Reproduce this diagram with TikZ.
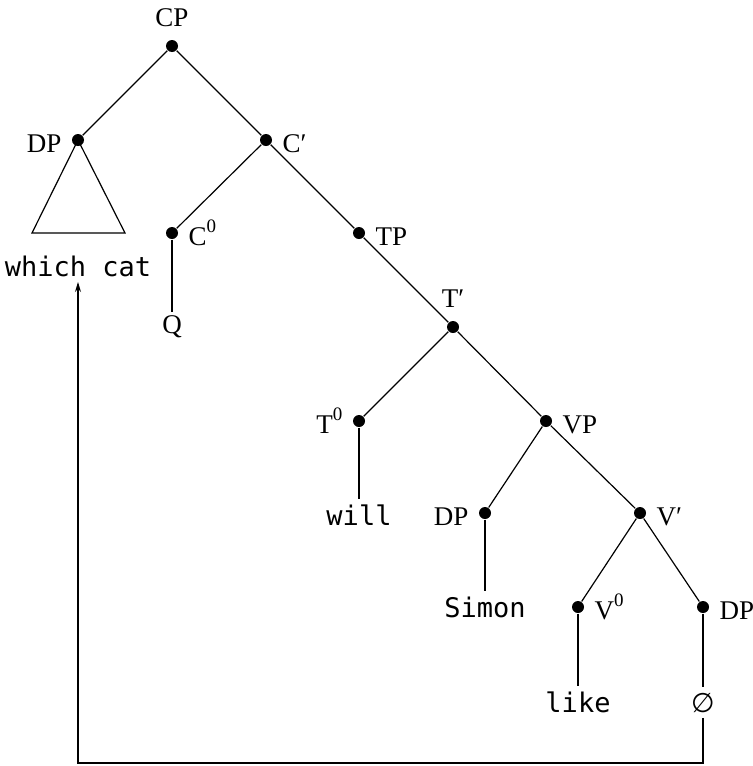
\documentclass[tikz,border=0pt]{standalone}
\usepackage{fontspec}
\setmainfont{Liberation Serif}
\newfontfamily\wordfont{DejaVu Sans Mono}
\newfontfamily\symfont{DejaVu Sans}
\usetikzlibrary{arrows.meta}
\newcommand\zerosup{\raisebox{6.5pt}{\fontsize{9.5}{10}\selectfont 0}}
\tikzset{
  every node/.style={font=\fontsize{13.5}{16}\selectfont},
  dot/.style={circle, fill, inner sep=0pt, minimum size=6pt},
  catright/.style={anchor=base west, inner sep=0pt, xshift=8pt, yshift=-6pt},
  catleft/.style={anchor=base east, inner sep=0pt, xshift=-8pt, yshift=-6pt},
  cattop/.style={anchor=base, inner sep=0pt, yshift=10pt},
  word/.style={anchor=base, inner sep=2.5pt},
  mono/.style={word, font=\fontsize{13.5}{16}\selectfont\wordfont},
}
\begin{document}
\begin{tikzpicture}[x=0.5pt, y=-0.5pt, >={Stealth[length=5pt,width=3pt]}, line width=0.6pt]
	\useasboundingbox (0,0) rectangle (752,766);
	% dots
	\node[dot] (cp) at (172,46) {};
	\node[dot] (dpa) at (78,140) {};
	\node[dot] (cbar) at (266,140) {};
	\node[dot] (c0) at (172,233) {};
	\node[dot] (tp) at (359,233) {};
	\node[dot] (tbar) at (453,327) {};
	\node[dot] (t0) at (359,421) {};
	\node[dot] (vp) at (546,421) {};
	\node[dot] (dpb) at (485,513) {};
	\node[dot] (vbar) at (640,513) {};
	\node[dot] (v0) at (578,607) {};
	\node[dot] (dpc) at (703,607) {};
	% labels
	\node[cattop] (cpl) at (cp) {CP};
	\node[catleft] (dpal) at (dpa) {DP};
	\node[catright] (cbarl) at (cbar) {C′};
	\node[catright] (c0l) at (c0) {C\zerosup};
	\node[catright] (tpl) at (tp) {TP};
	\node[cattop] (tbarl) at (tbar) {T′};
	\node[catleft] (t0l) at (t0) {T\zerosup};
	\node[catright] (vpl) at (vp) {VP};
	\node[catleft] (dpbl) at (dpb) {DP};
	\node[catright] (vbarl) at (vbar) {V′};
	\node[catright] (v0l) at (v0) {V\zerosup};
	\node[catright] (dpcl) at (dpc) {DP};
	% words
	\node[mono] (whichcat) at (78,276) {which cat};
	\node[word, inner sep=1.5pt] (q) at (172,333) {Q};
	\node[mono] (will) at (359,525) {will};
	\node[mono] (simon) at (485,617) {Simon};
	\node[mono] (like) at (578,712) {like};
	\node[word] (nul) at (703,712) {\symfont ∅};
	\coordinate (turn) at (703,763);
	% branches
	\draw (cp)--(dpa) (cp)--(cbar) (cbar)--(c0) (cbar)--(tp) (tp)--(tbar)
		(tbar)--(t0) (tbar)--(vp) (vp)--(dpb) (vp)--(vbar) (vbar)--(v0) (vbar)--(dpc);
	\draw (c0)--(q) (t0)--(will) (dpb)--(simon) (v0)--(like) (dpc)--(nul);
	\draw (dpa.center) -- ++(-46,93) -- ++(93,0) -- cycle;
	% movement
	\draw[->] (nul) -- (turn) -| (whichcat);
\end{tikzpicture}
\end{document}
